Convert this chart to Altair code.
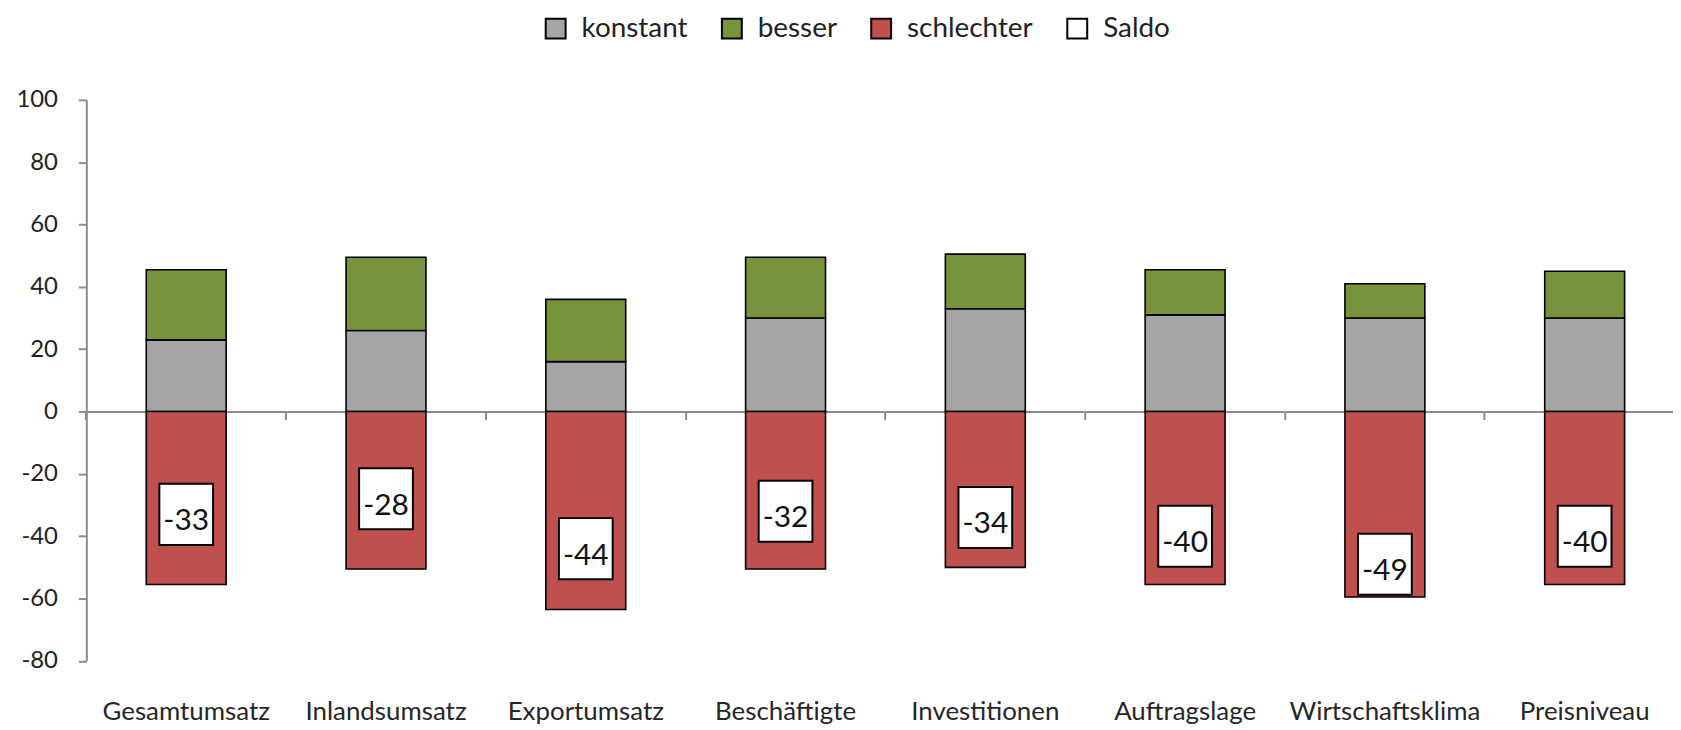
import altair as alt
import pandas as pd

categories = ["Gesamtumsatz", "Inlandsumsatz", "Exportumsatz", "Beschäftigte",
              "Investitionen", "Auftragslage", "Wirtschaftsklima", "Preisniveau"]
konstant = [23, 26, 16, 30, 33, 31, 30, 30]
besser = [22.5, 23.5, 20, 19.5, 17.5, 14.5, 11, 15]
schlechter = [55.5, 50.5, 63.5, 50.5, 50, 55.5, 59.5, 55.5]
saldo = [-33, -28, -44, -32, -34, -40, -49, -40]
y_ticks = [-80, -60, -40, -20, 0, 20, 40, 60, 80, 100]
series_names = ["konstant", "besser", "schlechter", "Saldo"]
series_colors = ["#A5A5A5", "#77933C", "#C0504D", "#FFFFFF"]

# layout constants (pixels)
W = 1594
H = 563.6
STEP = 200.7
BOX_HALF = 9.8  # half height of saldo box in data units
FONT = "Lato"
AXIS_GRAY = "#8c8c8c"

rows = []
for i, c in enumerate(categories):
    k, b, s = konstant[i], besser[i], schlechter[i]
    rows.append(dict(cat=c, series="konstant", y0=0, y1=k))
    rows.append(dict(cat=c, series="besser", y0=k, y1=k + b))
    rows.append(dict(cat=c, series="schlechter", y0=-s, y1=0))
bars_df = pd.DataFrame(rows)

saldo_df = pd.DataFrame({"cat": categories, "saldo": saldo})
saldo_df["series"] = "Saldo"
saldo_df["lo"] = saldo_df["saldo"] - BOX_HALF
saldo_df["hi"] = saldo_df["saldo"] + BOX_HALF
saldo_df["label"] = saldo_df["saldo"].map(lambda v: f"-{abs(v)}" if v < 0 else str(v))

xscale = alt.Scale(domain=categories, range=[0, STEP * 8], paddingInner=0.6, paddingOuter=0.3)
yscale = alt.Scale(domain=[-80, 100], nice=False, zero=False)

yaxis = alt.Axis(
    title=None, values=y_ticks, grid=False,
    domain=True, domainColor=AXIS_GRAY, domainWidth=2,
    ticks=True, tickColor=AXIS_GRAY, tickWidth=2, tickSize=8,
    labelFont=FONT, labelFontSize=24, labelColor="#222222", labelPadding=21,
    labelExpr="datum.value < 0 ? '-' + abs(datum.value) : '' + datum.value",
)

color = alt.Color(
    "series:N",
    scale=alt.Scale(domain=series_names, range=series_colors),
    legend=alt.Legend(
        title=None, orient="none", legendX=457.5, legendY=-85.6,
        direction="horizontal", columns=4,
        symbolType="square", symbolSize=400,
        symbolStrokeColor="#000000", symbolStrokeWidth=2, symbolOpacity=1,
        labelFont=FONT, labelFontSize=28, labelColor="#222222",
        labelOffset=12, columnPadding=30, padding=0,
    ),
)

bars = alt.Chart(bars_df).mark_bar(stroke="#000000", strokeWidth=1.6).encode(
    x=alt.X("cat:N", scale=xscale, sort=categories,
            axis=alt.Axis(title=None, orient="bottom", domain=False, ticks=False, tickSize=0,
                          labelAngle=0, labelFont=FONT, labelFontSize=26, labelLimit=400,
                          labelColor="#262626", labelPadding=38)),
    y=alt.Y("y0:Q", scale=yscale, axis=yaxis),
    y2="y1:Q",
    color=color,
)

boxes = alt.Chart(saldo_df).mark_bar(width=54, stroke="#000000", strokeWidth=2).encode(
    x=alt.X("cat:N", scale=xscale, sort=categories,
            axis=alt.Axis(title=None, orient="bottom", offset=-(H * 80 / 180), labels=False,
                          domain=True, domainColor=AXIS_GRAY, domainWidth=2,
                          ticks=True, tickColor=AXIS_GRAY, tickWidth=2, tickSize=8,
                          bandPosition=-0.75)),
    y=alt.Y("lo:Q", scale=yscale, axis=yaxis),
    y2="hi:Q",
    color=color,
)

labels = alt.Chart(saldo_df).mark_text(
    font=FONT, fontSize=30, color="#111111", baseline="middle", align="center", dy=7
).encode(
    x=alt.X("cat:N", scale=xscale, sort=categories, axis=None),
    y=alt.Y("saldo:Q", scale=yscale, axis=yaxis),
    text="label:N",
)

chart = alt.layer(bars, boxes, labels).resolve_axis(x="independent").properties(
    width=W, height=H,
    padding={"left": 78.7, "top": 90.6, "right": 0, "bottom": 80},
    autosize=alt.AutoSizeParams(type="none"),
).configure_view(stroke=None)

chart.save("out.html", embed_options={"renderer": "svg", "actions": False})
